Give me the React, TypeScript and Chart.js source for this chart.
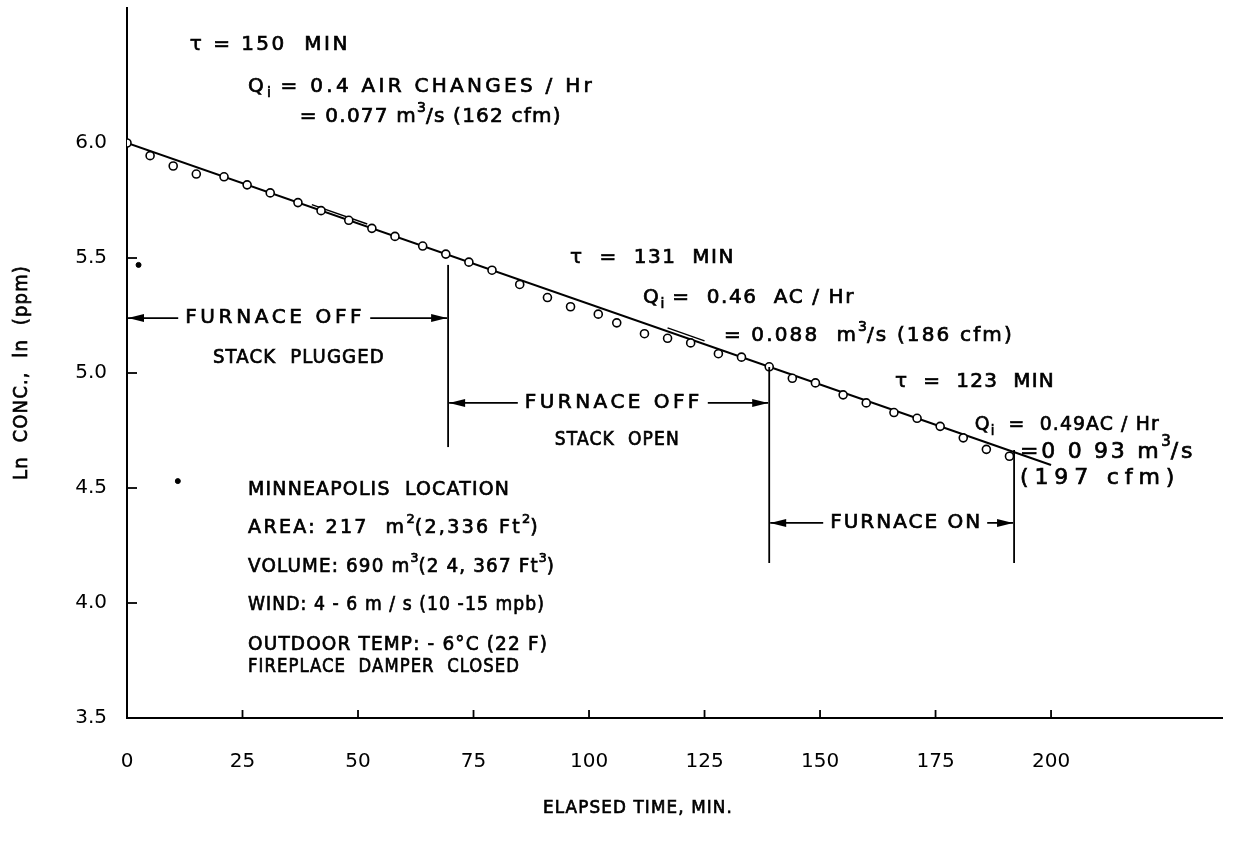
import React, { useEffect, useRef } from "react";
import { Chart, registerables } from "chart.js";

Chart.register(...registerables);

// ---- data ----
const elapsedMin = [0, 5, 10, 15, 21, 26, 31, 37, 42, 48, 53, 58, 64, 69, 74, 79, 85, 91, 96, 102, 106, 112, 117, 122, 128, 133, 139, 144, 149, 155, 160, 166, 171, 176, 181, 186, 191];
const lnConc = [6.0, 5.945, 5.9, 5.865, 5.853, 5.818, 5.783, 5.741, 5.706, 5.664, 5.629, 5.594, 5.552, 5.517, 5.482, 5.447, 5.385, 5.328, 5.288, 5.256, 5.218, 5.171, 5.151, 5.131, 5.084, 5.069, 5.027, 4.977, 4.957, 4.905, 4.87, 4.828, 4.803, 4.768, 4.718, 4.668, 4.638];
const fitTime = [0, 200];
const fitLn = [6.0, 4.6];
// short overlapping pieces of the separate phase fits
const fragATime = [40, 52];
const fragALn = [5.732, 5.648];
const fragBTime = [117, 125];
const fragBLn = [5.196, 5.14];
const speckTime = [2.5, 11];
const speckLn = [5.47, 4.53];
const xTickValues = [0, 25, 50, 75, 100, 125, 150, 175, 200];
const yTickValues = [3.5, 4.0, 4.5, 5.0, 5.5, 6.0];
const phaseBoundaries = [69.5, 139, 192];

const X_MIN = 0;
const X_MAX = 237;
const Y_MIN = 3.5;
const Y_MAX = 6.587;

const FONT = '"DejaVu Sans", "Liberation Sans", sans-serif';

// annotation texts (anchor in data units: left x, middle y; w = drawn width in px)
const notes = [
  { t: 13.6, v: 6.426, s: "τ = 150  MIN", w: 160, size: 20 },
  { t: 26.2, v: 6.243, s: "Q_{i} = 0.4 AIR CHANGES / Hr", w: 347, size: 20 },
  { t: 37.4, v: 6.113, s: "= 0.077 m^{3}/s (162 cfm)", w: 262, size: 20 },
  { t: 95.9, v: 5.5, s: "τ  =  131  MIN", w: 165, size: 20 },
  { t: 111.7, v: 5.326, s: "Q_{i} =  0.46  AC / Hr", w: 212, size: 20 },
  { t: 129.2, v: 5.161, s: "= 0.088  m^{3}/s (186 cfm)", w: 290, size: 20 },
  { t: 166.2, v: 4.961, s: "τ  =  123  MIN", w: 160, size: 20 },
  { t: 183.5, v: 4.774, s: "Q_{i}  =  0.49AC / Hr", w: 185, size: 20 },
  { t: 193.3, v: 4.657, s: "=0 0 93 m^{3}/s", w: 175, size: 22 },
  { t: 193.3, v: 4.543, s: "(197 cfm)", w: 160, size: 22 },
  { t: 26.2, v: 4.491, s: "MINNEAPOLIS  LOCATION", w: 262, size: 19 },
  { t: 26.2, v: 4.326, s: "AREA: 217  m^{2}(2,336 Ft^{2})", w: 292, size: 19 },
  { t: 26.2, v: 4.157, s: "VOLUME: 690 m^{3}(2 4, 367 Ft^{3})", w: 307, size: 19 },
  { t: 26.2, v: 3.991, s: "WIND: 4 - 6 m / s (10 -15 mpb)", w: 297, size: 19 },
  { t: 26.2, v: 3.817, s: "OUTDOOR TEMP: - 6°C (22 F)", w: 300, size: 19 },
  { t: 26.2, v: 3.722, s: "FIREPLACE  DAMPER  CLOSED", w: 272, size: 19 },
  { t: 18.6, v: 5.065, s: "STACK  PLUGGED", w: 172, size: 19 },
  { t: 92.6, v: 4.709, s: "STACK  OPEN", w: 125, size: 19 },
];

// arrows: from t1 to t2 at level v, label starting at tl
const arrows = [
  { t1: 0, t2: 69.5, v: 5.239, tl: 12.6, s: "FURNACE OFF", w: 180 },
  { t1: 69.5, t2: 139, v: 4.87, tl: 86.1, s: "FURNACE OFF", w: 178 },
  { t1: 139, t2: 192, v: 4.348, tl: 152.2, s: "FURNACE ON", w: 152 },
];

// vertical boundary segments: [low, high] in ln units for each boundary
const boundaryLow = [4.678, 4.174, 4.174];
const boundaryHigh = [5.47, 5.026, 4.665];

function parse(text: string) {
  return text.split(/(\^\{[^}]*\}|_\{[^}]*\})/).filter((p) => p.length > 0).map((p) => {
    if (p.startsWith("^{")) return { s: p.slice(2, -1), mode: "sup" };
    if (p.startsWith("_{")) return { s: p.slice(2, -1), mode: "sub" };
    return { s: p, mode: "n" };
  });
}

// draws text starting at (x, y) so that it spans `target` px, using letter spacing
// (and horizontal compression when the glyphs alone are too wide)
function drawRich(ctx: CanvasRenderingContext2D, text: string, x: number, y: number, size: number, target: number) {
  const pieces = parse(text);
  const c: any = ctx;
  const minSp = 1.2;
  let w0 = 0;
  let n = 0;
  c.letterSpacing = "0px";
  for (const p of pieces) {
    const fs = p.mode === "n" ? size : Math.round(size * 0.7);
    ctx.font = `${fs}px ${FONT}`;
    w0 += ctx.measureText(p.s).width;
    if (p.mode === "n") n += p.s.length;
  }
  let sx = 1;
  let sp = (target - w0) / Math.max(1, n);
  if (sp < minSp) {
    sp = minSp;
    sx = target / (w0 + n * minSp);
  }
  ctx.save();
  ctx.translate(x, y);
  ctx.scale(sx, 1);
  ctx.lineWidth = 0.7;
  let cx = 0;
  for (const p of pieces) {
    const fs = p.mode === "n" ? size : Math.round(size * 0.7);
    ctx.font = `${fs}px ${FONT}`;
    c.letterSpacing = `${p.mode === "n" ? sp : 0}px`;
    const dy = p.mode === "sup" ? -size * 0.45 : p.mode === "sub" ? size * 0.32 : 0;
    ctx.fillText(p.s, cx, dy);
    ctx.strokeText(p.s, cx, dy);
    cx += ctx.measureText(p.s).width;
  }
  c.letterSpacing = "0px";
  ctx.restore();
}

const overlay = {
  id: "overlay",
  afterDraw(chart: any) {
    const ctx: CanvasRenderingContext2D = chart.ctx;
    const xs = chart.scales.x;
    const ys = chart.scales.y;
    const area = chart.chartArea;
    ctx.save();
    ctx.strokeStyle = "#000";
    ctx.fillStyle = "#000";
    ctx.lineWidth = 1.8;

    // inward tick marks
    xTickValues.forEach((t) => {
      if (t === X_MIN) return;
      const px = xs.getPixelForValue(t);
      ctx.beginPath();
      ctx.moveTo(px, area.bottom);
      ctx.lineTo(px, area.bottom - 8);
      ctx.stroke();
    });
    yTickValues.forEach((v) => {
      if (v === Y_MIN || v === 6.0) return;
      const py = ys.getPixelForValue(v);
      ctx.beginPath();
      ctx.moveTo(area.left, py);
      ctx.lineTo(area.left + 10, py);
      ctx.stroke();
    });

    // boundaries
    phaseBoundaries.forEach((t, i) => {
      const px = xs.getPixelForValue(t);
      ctx.lineWidth = 1.8;
      ctx.beginPath();
      ctx.moveTo(px, ys.getPixelForValue(boundaryHigh[i]));
      ctx.lineTo(px, ys.getPixelForValue(boundaryLow[i]));
      ctx.stroke();
    });

    // arrows
    const head = (x: number, y: number, dir: number) => {
      ctx.beginPath();
      ctx.moveTo(x, y);
      ctx.lineTo(x - dir * 16, y - 4);
      ctx.lineTo(x - dir * 16, y + 4);
      ctx.closePath();
      ctx.fill();
    };
    ctx.textBaseline = "middle";
    ctx.textAlign = "left";
    arrows.forEach((a) => {
      const x1 = xs.getPixelForValue(a.t1) + 1;
      const x2 = xs.getPixelForValue(a.t2) - 1;
      const y = ys.getPixelForValue(a.v);
      const xl = xs.getPixelForValue(a.tl);
      ctx.lineWidth = 1.8;
      ctx.beginPath();
      ctx.moveTo(x1, y);
      ctx.lineTo(xl - 7, y);
      ctx.moveTo(xl + a.w + 5, y);
      ctx.lineTo(x2, y);
      ctx.stroke();
      head(x1, y, -1);
      head(x2, y, 1);
      drawRich(ctx, a.s, xl, y, 20, a.w);
    });

    // notes
    notes.forEach((n) => {
      drawRich(ctx, n.s, xs.getPixelForValue(n.t), ys.getPixelForValue(n.v), n.size, n.w);
    });

    // axis titles
    drawRich(ctx, "ELAPSED TIME, MIN.", 543, 808, 18, 190);
    ctx.save();
    ctx.translate(22, 480);
    ctx.rotate(-Math.PI / 2);
    drawRich(ctx, "Ln  CONC.,  ln  (ppm)", 0, 0, 19, 215);
    ctx.restore();
    ctx.restore();
  },
};

export default function App() {
  const ref = useRef<HTMLCanvasElement | null>(null);
  useEffect(() => {
    if (!ref.current) return;
    const lineStyle = { showLine: true, borderColor: "#000", borderWidth: 2, pointRadius: 0 };
    const chart = new Chart(ref.current, {
      type: "scatter",
      data: {
        datasets: [
          {
            label: "measured",
            data: elapsedMin.map((t, i) => ({ x: t, y: lnConc[i] })),
            pointRadius: 4,
            pointBorderWidth: 1.6,
            pointBorderColor: "#000",
            pointBackgroundColor: "#fff",
            showLine: false,
            order: 0,
          },
          { label: "fit", data: fitTime.map((t, i) => ({ x: t, y: fitLn[i] })), ...lineStyle, order: 1 },
          { label: "fitA", data: fragATime.map((t, i) => ({ x: t, y: fragALn[i] })), ...lineStyle, borderWidth: 1.4, order: 1 },
          { label: "fitB", data: fragBTime.map((t, i) => ({ x: t, y: fragBLn[i] })), ...lineStyle, borderWidth: 1.4, order: 1 },
          {
            label: "specks",
            data: speckTime.map((t, i) => ({ x: t, y: speckLn[i] })),
            pointRadius: 2.5,
            pointBackgroundColor: "#000",
            pointBorderColor: "#000",
            showLine: false,
            order: 2,
          },
        ],
      },
      options: {
        responsive: false,
        animation: false,
        events: [],
        layout: { padding: { top: 8, right: 17, left: 0, bottom: 0 } },
        plugins: { legend: { display: false }, tooltip: { enabled: false } },
        scales: {
          x: {
            type: "linear",
            min: X_MIN,
            max: X_MAX,
            afterBuildTicks: (s: any) => { s.ticks = xTickValues.map((v) => ({ value: v })); },
            afterFit: (s: any) => { s.height = 131; s.paddingLeft = 0; s.paddingRight = 0; },
            grid: { display: false },
            border: { display: true, color: "#000", width: 2 },
            ticks: { color: "#000", font: { family: FONT, size: 20 }, padding: 24, maxRotation: 0, callback: (v: any) => String(v) },
          },
          y: {
            type: "linear",
            min: Y_MIN,
            max: Y_MAX,
            afterBuildTicks: (s: any) => { s.ticks = yTickValues.map((v) => ({ value: v })); },
            afterFit: (s: any) => { s.width = 127; s.paddingTop = 0; s.paddingBottom = 0; },
            grid: { display: false },
            border: { display: true, color: "#000", width: 2 },
            ticks: { color: "#000", font: { family: FONT, size: 20 }, padding: 12, callback: (v: any) => Number(v).toFixed(1) },
          },
        },
      },
      plugins: [overlay],
    } as any);
    return () => chart.destroy();
  }, []);
  return (
    <div style={{ position: "fixed", left: 0, top: 0, width: 1239, height: 849, background: "#fff" }}>
      <canvas ref={ref} width={1239} height={849} />
    </div>
  );
}
